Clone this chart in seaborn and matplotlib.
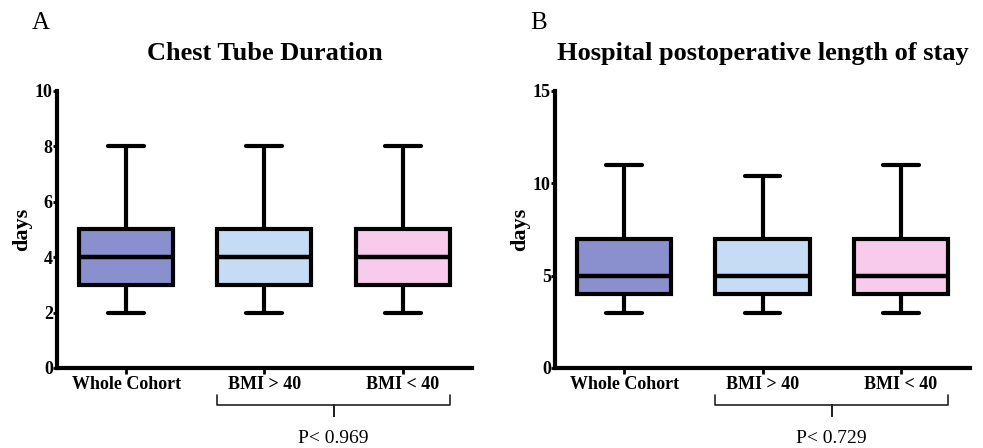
import pandas as pd
import matplotlib.pyplot as plt
import seaborn as sns

# five-number summaries (min, q1, median, q3, max)
groups = ["Whole Cohort", "BMI > 40", "BMI < 40"]
chest_tube = {
    "Whole Cohort": [2, 3, 4, 5, 8],
    "BMI > 40": [2, 3, 4, 5, 8],
    "BMI < 40": [2, 3, 4, 5, 8],
}
length_of_stay = {
    "Whole Cohort": [3, 4, 5, 7, 11],
    "BMI > 40": [3, 4, 5, 7, 10.4],
    "BMI < 40": [3, 4, 5, 7, 11],
}
colors = ["#8a8fce", "#c6dcf5", "#f8cbec"]
p_values = ["P< 0.969", "P< 0.729"]
titles = ["Chest Tube Duration", "Hospital postoperative length of stay"]
panel_labels = ["A", "B"]
y_limits = [10, 15]
y_ticks = [[0, 2, 4, 6, 8, 10], [0, 5, 10, 15]]

sns.set_style("white")
plt.rcParams["font.family"] = ["Liberation Serif", "DejaVu Serif"]
plt.rcParams["text.color"] = "black"
plt.rcParams["axes.labelcolor"] = "black"
plt.rcParams["xtick.color"] = "black"
plt.rcParams["ytick.color"] = "black"


def to_long(d):
    rows = []
    for g in groups:
        for v in d[g]:
            rows.append({"group": g, "days": v})
    return pd.DataFrame(rows)


fig = plt.figure(figsize=(9.83, 4.48), dpi=100)
ax_a = fig.add_axes([0.058, 0.1786, 0.422, 0.6183])
ax_b = fig.add_axes([0.5646, 0.1786, 0.4222, 0.6183])

for i, (ax, d) in enumerate(zip([ax_a, ax_b], [chest_tube, length_of_stay])):
    df = to_long(d)
    sns.boxplot(data=df, x="group", y="days", hue="group", order=groups,
                hue_order=groups, palette=colors, saturation=1, legend=False, ax=ax,
                whis=(0, 100), width=0.68, linecolor="black", linewidth=3,
                showfliers=False, capwidths=0.26,
                medianprops={"linewidth": 3.2, "color": "black"})
    ax.set_xlim(-0.5, 2.5)
    ax.set_ylim(0, y_limits[i])
    ax.set_yticks(y_ticks[i])
    ax.set_xlabel("")
    ax.set_ylabel("days", fontsize=16, fontweight="bold", labelpad=2)
    for side in ["top", "right"]:
        ax.spines[side].set_visible(False)
    for side in ["left", "bottom"]:
        ax.spines[side].set_linewidth(3)
        ax.spines[side].set_color("black")
    ax.tick_params(axis="y", length=3, width=2, pad=0, labelsize=13, left=True)
    ax.tick_params(axis="x", length=4, width=2, pad=2, labelsize=13, bottom=True)
    for lab in ax.get_xticklabels() + ax.get_yticklabels():
        lab.set_fontweight("bold")
    ax.set_title(titles[i], fontsize=19, fontweight="bold", pad=22)
    ax.text(-0.06, 1.245, panel_labels[i], transform=ax.transAxes,
            fontsize=18, ha="left", va="center")

    # bracket under the two BMI groups
    tr = ax.get_xaxis_transform()
    x0, x1 = 1 - 0.34, 2 + 0.34
    xm = (x0 + x1) / 2
    ax.plot([x0, x0, xm, xm, xm, x1, x1], [-0.097, -0.135, -0.135, -0.175, -0.135, -0.135, -0.097],
            transform=tr, clip_on=False, color="#222222", lw=1.2)
    ax.text(xm, -0.255, p_values[i], transform=tr, ha="center", va="center", fontsize=14)

fig.savefig("out.png", dpi=100)
